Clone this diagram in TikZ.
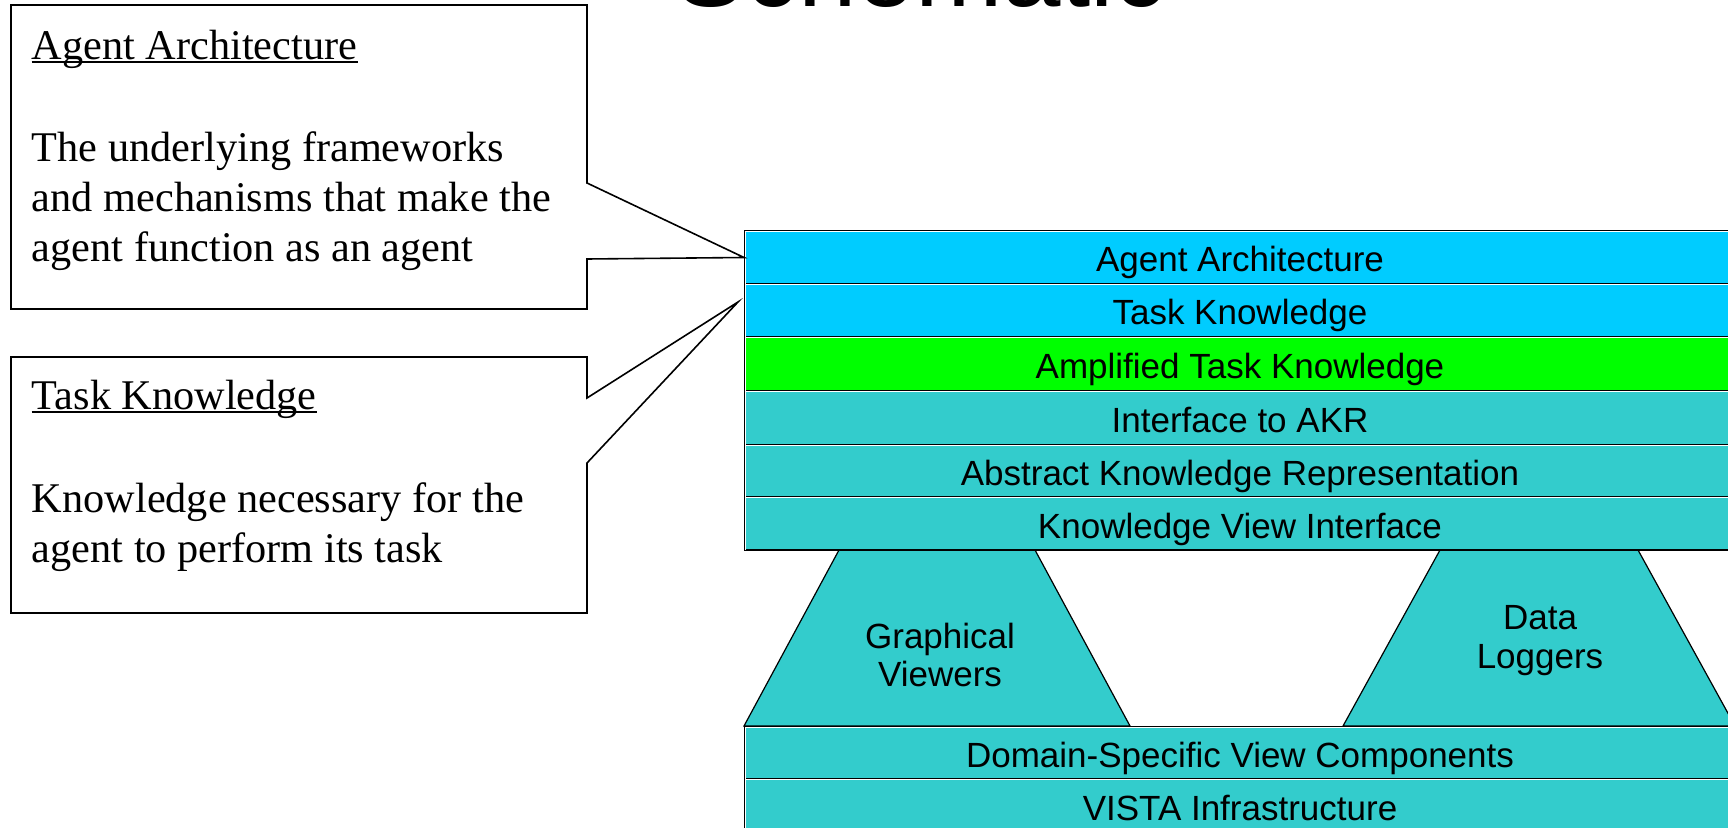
\documentclass[tikz,border=0pt]{standalone}
\usepackage{fontspec}
\setmainfont{Liberation Serif}
\newfontfamily\arialfont{Liberation Sans}
\usetikzlibrary{calc}
\definecolor{layerblue}{HTML}{00CCFF}
\definecolor{layergreen}{HTML}{00FF00}
\definecolor{layerteal}{HTML}{33CCCC}

\begin{document}
\begin{tikzpicture}[x=0.5pt, y=-0.5pt,
  layer/.style={draw=black, line width=1pt, rectangle, anchor=north west,
    minimum width=495pt, inner sep=0pt, text height=16pt, text depth=1.5pt,
    font=\arialfont\fontsize{17.5}{21}\selectfont},
  sans/.style={inner sep=0pt, anchor=base, font=\arialfont\fontsize{17.5}{21}\selectfont},
  serif/.style={inner sep=0pt, anchor=base west, font=\fontsize{21.15}{25}\selectfont},
  callout/.style={draw=black, line width=0.8pt, line join=miter, fill=white},
  trap/.style={fill=layerteal, draw=black, line width=0.6pt},
  sheen/.style={draw=white, line width=0.5pt}]

% canvas
\useasboundingbox (0,0) rectangle (1728,828);
\clip (0,0) rectangle (1728,828);
\fill[white] (0,0) rectangle (1728,828);

% title, cut by the top edge
\node[inner sep=0pt, anchor=base, font=\arialfont\fontsize{52.5}{60}\selectfont] (title) at (921,6.5) {Schematic};

% view components hanging between the two layer groups
\filldraw[trap] (839,550) -- (1035,550) -- (1130,726) -- (744,726) -- cycle;
\filldraw[trap] (1440,550) -- (1638,550) -- (1735,726) -- (1343,726) -- cycle;
\node[sans] (gv1) at (940,648) {Graphical};
\node[sans] (gv2) at (940,686.5) {Viewers};
\node[sans] (dl1) at (1540,629) {Data};
\node[sans] (dl2) at (1540,668) {Loggers};

% layer stack
\node[layer, fill=layerblue,  minimum height=26.5pt] (aa)  at (744,230) {Agent Architecture};
\node[layer, fill=layerblue,  minimum height=26.5pt] (tk)  at (744,283) {Task Knowledge};
\node[layer, fill=layergreen, minimum height=27pt]   (atk) at (744,336) {Amplified Task Knowledge};
\node[layer, fill=layerteal,  minimum height=27pt]   (akr) at (744,390) {Interface to AKR};
\node[layer, fill=layerteal,  minimum height=26pt]   (abs) at (744,444) {Abstract Knowledge Representation};
\node[layer, fill=layerteal,  minimum height=26.5pt] (kvi) at (744,496) {Knowledge View Interface};
\node[layer, fill=layerteal,  minimum height=26pt]   (dsv) at (744,726) {Domain-Specific View Components};
\node[layer, fill=layerteal,  minimum height=26.5pt] (vis) at (744,778) {VISTA Infrastructure};

% thin light edge just inside each layer border
\foreach \n in {aa,tk,atk,akr,abs,kvi,dsv,vis}
  \draw[sheen] ($(\n.south west)+(1.5,-1)$) -- ($(\n.north west)+(1.5,1.5)$) -- ($(\n.north east)+(0,1.5)$);

% callout boxes pointing at the two top layers
\coordinate (tip1) at (aa.west);
\coordinate (tip2) at ($(tk.west)+(-6,-8.5)$);
\draw[callout] (11,5) -- (587,5) -- (587,183) -- (tip1) -- (587,259) -- (587,309) -- (11,309) -- cycle;
\draw[callout] (11,357) -- (587,357) -- (587,398) -- (tip2) -- (587,463) -- (587,613) -- (11,613) -- cycle;

% first callout text
\node[serif] (h1) at (31.5,59.3) {Agent Architecture};
\draw[line width=0.9pt] ($(h1.base west)+(0,3)$) -- ($(h1.base east)+(0,3)$);
\node[serif] (a1) at (31.5,162) {The underlying frameworks};
\node[serif] (a2) at (31.5,212) {and mechanisms that make the};
\node[serif] (a3) at (31.5,262) {agent function as an agent};

% second callout text
\node[serif] (h2) at (31.5,409.3) {Task Knowledge};
\draw[line width=0.9pt] ($(h2.base west)+(0,3)$) -- ($(h2.base east)+(0,3)$);
\node[serif] (b1) at (31.5,512.3) {Knowledge necessary for the};
\node[serif] (b2) at (31.5,562.3) {agent to perform its task};
\end{tikzpicture}
\end{document}
